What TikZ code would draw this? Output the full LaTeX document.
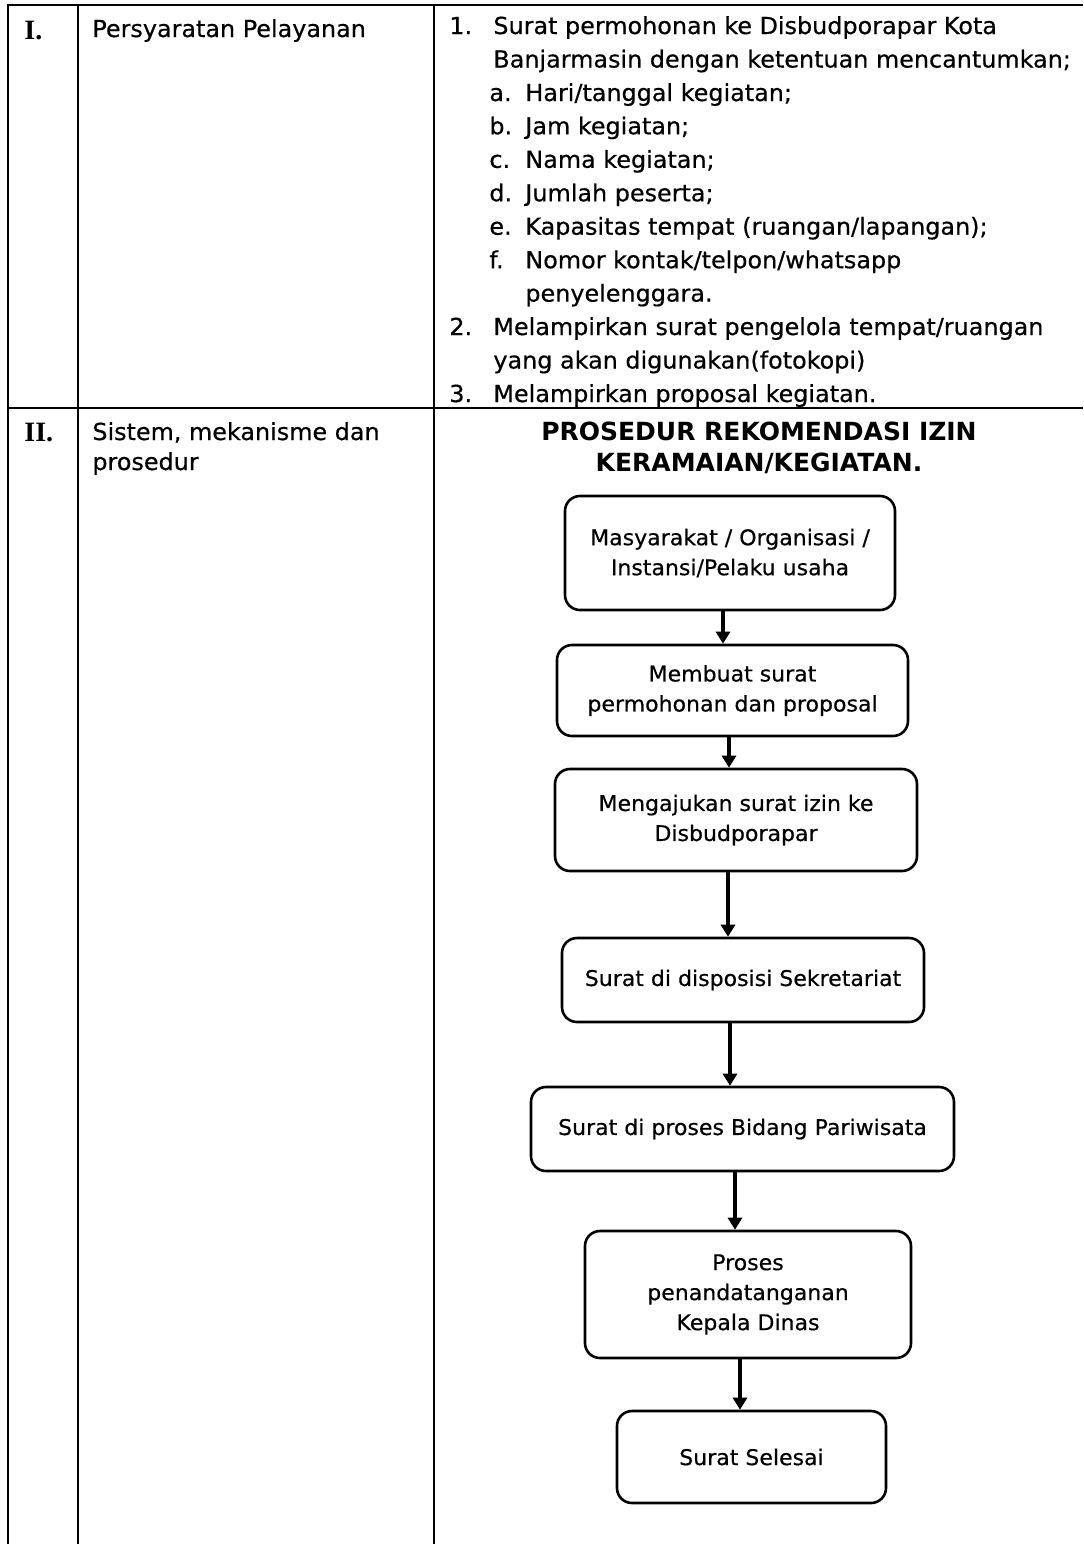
\documentclass[tikz,border=0pt]{standalone}
\usepackage{fontspec}
\setmainfont[FakeStretch=1.02,FakeBold=0.5]{DejaVu Sans}
\newfontfamily\headfont{DejaVu Sans}
\newfontfamily\romanb{Liberation Serif}
\usetikzlibrary{arrows.meta}
\begin{document}
\begin{tikzpicture}[x=0.5pt,y=-0.5pt,
 tline/.style={line width=1.3pt},
 body/.style={inner sep=0pt, anchor=base west, font=\fontsize{11.7}{14}\selectfont},
 num/.style={inner sep=0pt, anchor=base west, font=\romanb\bfseries\fontsize{14}{16}\selectfont},
 head/.style={inner sep=0pt, align=center, font=\headfont\bfseries\fontsize{12.5}{15.5}\selectfont},
 flow/.style={draw, line width=1.3pt, rounded corners=7.5pt, align=center, inner sep=0pt, font=\fontsize{10.8}{15}\selectfont},
 arr/.style={line width=2pt, -{Triangle[width=7pt,length=6pt]}}]
\useasboundingbox (0,0) rectangle (1083,1544);
\fill[white] (0,0) rectangle (1083,1544);
% table lines
\draw[tline] (7,5) -- (1083,5);
\draw[tline] (8,5) -- (8,1544);
\draw[tline] (78,5) -- (78,1544);
\draw[tline] (434,5) -- (434,1544);
\draw[tline] (8,408) -- (1083,408);
% column 1 and 2
\node[num] (n1) at (24,39) {I.};
\node[num] (n2) at (24,441) {II.};
\node[body] (c1) at (92,37) {Persyaratan Pelayanan};
\node[body] (c2) at (92,440) {Sistem, mekanisme dan};
\node[body] (c3) at (92,470) {prosedur};
% column 3 list
\node[body] (l1n) at (449,34) {1.};
\node[body] (l1) at (493,34) {Surat permohonan ke Disbudporapar Kota};
\node[body] (l2) at (493,67.5) {Banjarmasin dengan ketentuan mencantumkan;};
\node[body] (lan) at (489,101) {a.};
\node[body] (la) at (525,101) {Hari/tanggal kegiatan;};
\node[body] (lbn) at (489,134.3) {b.};
\node[body] (lb) at (525,134.3) {Jam kegiatan;};
\node[body] (lcn) at (489,167.8) {c.};
\node[body] (lc) at (525,167.8) {Nama kegiatan;};
\node[body] (ldn) at (489,201.3) {d.};
\node[body] (ld) at (525,201.3) {Jumlah peserta;};
\node[body] (len) at (489,234.7) {e.};
\node[body] (le) at (525,234.7) {Kapasitas tempat (ruangan/lapangan);};
\node[body] (lfn) at (489,268.2) {f.};
\node[body] (lf) at (525,268.2) {Nomor kontak/telpon/whatsapp};
\node[body] (lf2) at (525,301.6) {penyelenggara.};
\node[body] (l3n) at (449,335) {2.};
\node[body] (l3) at (493,335) {Melampirkan surat pengelola tempat/ruangan};
\node[body] (l4) at (493,368.5) {yang akan digunakan(fotokopi)};
\node[body] (l5n) at (449,402) {3.};
\node[body] (l5) at (493,402) {Melampirkan proposal kegiatan.};
% heading
\node[head] (hd) at (759,448) {PROSEDUR REKOMENDASI IZIN\\KERAMAIAN/KEGIATAN.};
% flow boxes
\node[flow, minimum width=165pt, minimum height=57pt] (b1) at (730,553) {Masyarakat / Organisasi /\\Instansi/Pelaku usaha};
\node[flow, minimum width=175.5pt, minimum height=45.5pt] (b2) at (732.5,690.5) {Membuat surat\\permohonan dan proposal};
\node[flow, minimum width=181pt, minimum height=51pt] (b3) at (736,820) {Mengajukan surat izin ke\\Disbudporapar};
\node[flow, minimum width=181pt, minimum height=42pt] (b4) at (743,980) {Surat di disposisi Sekretariat};
\node[flow, minimum width=211.5pt, minimum height=42pt] (b5) at (742.5,1129) {Surat di proses Bidang Pariwisata};
\node[flow, minimum width=163pt, minimum height=63.5pt] (b6) at (748,1294.5) {Proses\\penandatanganan\\Kepala Dinas};
\node[flow, minimum width=134.5pt, minimum height=46pt] (b7) at (751.5,1457) {Surat Selesai};
% arrow x positions
\coordinate (x1) at (723,0);
\coordinate (x2) at (729,0);
\coordinate (x3) at (728,0);
\coordinate (x4) at (730,0);
\coordinate (x5) at (735,0);
\coordinate (x6) at (740,0);
\draw[arr] (b1.south -| x1) -- (b2.north -| x1);
\draw[arr] (b2.south -| x2) -- (b3.north -| x2);
\draw[arr] (b3.south -| x3) -- (b4.north -| x3);
\draw[arr] (b4.south -| x4) -- (b5.north -| x4);
\draw[arr] (b5.south -| x5) -- (b6.north -| x5);
\draw[arr] (b6.south -| x6) -- (b7.north -| x6);
\end{tikzpicture}
\end{document}
